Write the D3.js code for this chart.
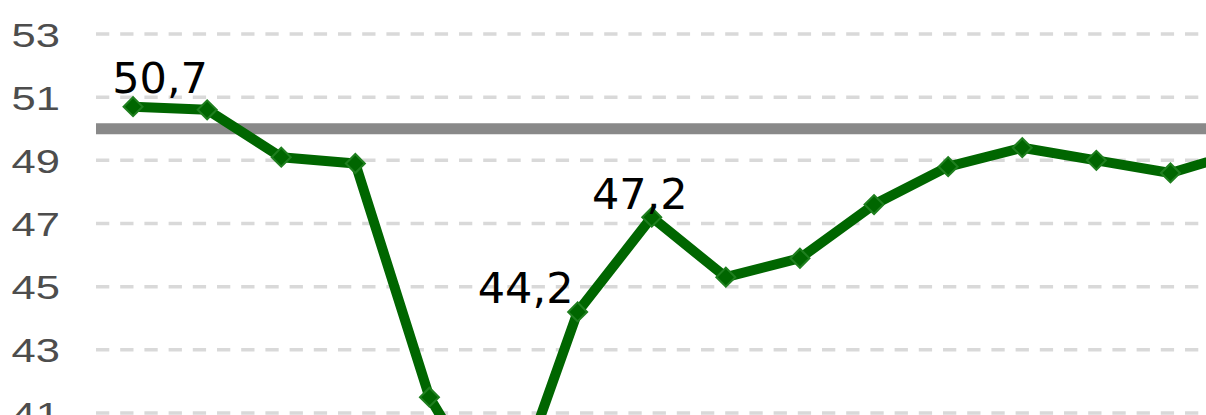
<!DOCTYPE html>
<html>
<head>
<meta charset="utf-8">
<script src="https://cdn.jsdelivr.net/npm/d3@7"></script>
<style>
  body { margin: 0; background: #fff; overflow: hidden; }
  svg { display: block; }
</style>
</head>
<body>
<script>
// Data (x labels are not visible, so just indices)
const categories = d3.range(16).map((i) => 'p' + i);
const values = [50.7, 50.6, 49.1, 48.9, 41.5, 37.6, 44.2, 47.2, 45.3, 45.9, 47.6, 48.8, 49.4, 49.0, 48.6, 49.3];
const yTicks = [41, 43, 45, 47, 49, 51, 53];
const threshold = 50;
const labelled = [0, 6, 7]; // points with a value label
const labelOffsets = { 0: [27, -14], 6: [-52, -9], 7: [-12, -8] };

const width = 1206;
const height = 415;

const svg = d3.select('body').append('svg')
    .attr('width', width)
    .attr('height', height);

// Scales: the plot runs past the right and bottom edges of the window
const xscale = d3.scaleBand().domain(categories).range([96, 96 + 74.1 * categories.length]);
const yscale = d3.scaleLinear().domain([41, 53]).range([413, 34]);
const cx = (i) => xscale(categories[i]) + xscale.bandwidth() / 2;

// Dashed gridlines
svg.append('g')
    .selectAll('line')
    .data(yTicks)
    .join('line')
    .attr('x1', xscale.range()[0])
    .attr('x2', xscale.range()[1])
    .attr('y1', (d) => yscale(d))
    .attr('y2', (d) => yscale(d))
    .attr('stroke', '#d9d9d9')
    .attr('stroke-width', 3.5)
    .attr('stroke-dasharray', '13.3 10.9');

// Y axis labels (stretched wide like the source)
const yaxis = d3.axisLeft(yscale).tickValues(yTicks).tickSize(0).tickPadding(0);
const g_yaxis = svg.append('g').attr('transform', 'translate(60,0)').call(yaxis);
g_yaxis.select('.domain').remove();
g_yaxis.selectAll('text')
    .attr('x', 0)
    .attr('dy', null)
    .attr('y', 12)
    .attr('transform', 'scale(1.32,1)')
    .attr('fill', '#4d4d4d')
    .style('font-family', '"Liberation Sans", Arial, sans-serif')
    .style('font-size', '33px');

// Threshold line at 50
svg.append('line')
    .attr('x1', xscale.range()[0])
    .attr('x2', xscale.range()[1])
    .attr('y1', yscale(threshold))
    .attr('y2', yscale(threshold))
    .attr('stroke', '#898989')
    .attr('stroke-width', 11);

// Series line
const line = d3.line()
    .x((d, i) => cx(i))
    .y((d) => yscale(d));

svg.append('path')
    .datum(values)
    .attr('d', line)
    .attr('fill', 'none')
    .attr('stroke', '#006600')
    .attr('stroke-width', 10)
    .attr('stroke-linejoin', 'round');

// Diamond markers
svg.append('g')
    .selectAll('path')
    .data(values)
    .join('path')
    .attr('d', d3.symbol(d3.symbolSquare, 180))
    .attr('transform', (d, i) => `translate(${cx(i)},${yscale(d)}) rotate(45)`)
    .attr('fill', '#006600')
    .attr('stroke', '#1f7f1f')
    .attr('stroke-width', 2);

// Value labels
svg.append('g')
    .selectAll('text')
    .data(labelled)
    .join('text')
    .attr('x', (i) => cx(i) + labelOffsets[i][0])
    .attr('y', (i) => yscale(values[i]) + labelOffsets[i][1])
    .attr('text-anchor', 'middle')
    .attr('fill', '#000')
    .style('font-family', '"DejaVu Sans", sans-serif')
    .style('font-size', '43px')
    .text((i) => String(values[i]).replace('.', ','));
</script>
</body>
</html>
